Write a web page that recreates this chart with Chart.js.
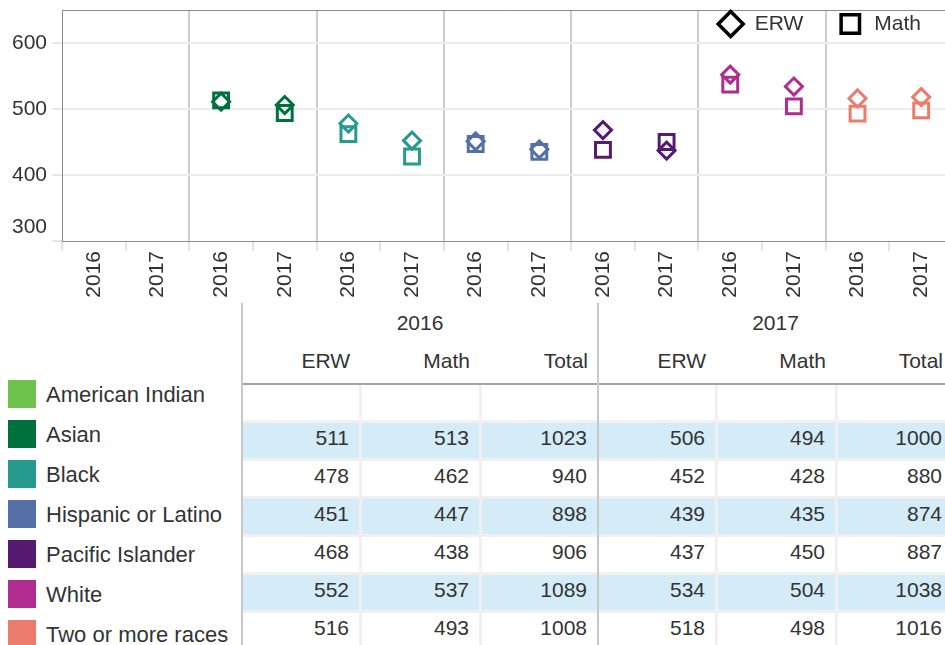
<!DOCTYPE html>
<html>
<head>
<meta charset="utf-8">
<script src="https://cdn.jsdelivr.net/npm/chart.js@4.4.1/dist/chart.umd.min.js"></script>
<style>
  html, body { margin: 0; padding: 0; overflow: hidden; background: #fff; }
  body { width: 945px; height: 645px; position: relative; font-family: "Liberation Sans", Arial, sans-serif; color: #333; }
  #chartBox { position: absolute; left: 0; top: 0; width: 953px; height: 300px; }
  .abs { position: absolute; white-space: nowrap; }
</style>
</head>
<body>
<div id="chartBox"><canvas id="c"></canvas></div>
<div id="table"></div>
<script>
// ---------- data ----------
const races = ['American Indian', 'Asian', 'Black', 'Hispanic or Latino', 'Pacific Islander', 'White', 'Two or more races'];
const raceColors = ['#6dc24b', '#00703c', '#269a8e', '#5570a7', '#541b70', '#b02c8e', '#eb7b6c'];
const years = ['2016', '2017'];
const sections = ['ERW', 'Math'];
const columnHeads = ['ERW', 'Math', 'Total'];
const yTicks = [300, 400, 500, 600];

const erw2016   = [null, 511, 478, 451, 468, 552, 516];
const math2016  = [null, 513, 462, 447, 438, 537, 493];
const total2016 = [null, 1023, 940, 898, 906, 1089, 1008];
const erw2017   = [null, 506, 452, 439, 437, 534, 518];
const math2017  = [null, 494, 428, 435, 450, 504, 498];
const total2017 = [null, 1000, 880, 874, 887, 1038, 1016];

// ---------- chart ----------
const FONT = '"Liberation Sans", Arial, sans-serif';
Chart.defaults.font.family = FONT;
Chart.defaults.font.size = 21;
Chart.defaults.color = '#333';

const xLabels = [];
const pointColors = [];
const erwSeries = [];
const mathSeries = [];
races.forEach((r, i) => {
  xLabels.push(years[0], years[1]);
  pointColors.push(raceColors[i], raceColors[i]);
  erwSeries.push(erw2016[i], erw2017[i]);
  mathSeries.push(math2016[i], math2017[i]);
});

const frame = {
  id: 'frame',
  beforeDatasetsDraw(chart) {
    const { ctx, chartArea } = chart;
    ctx.save();
    ctx.strokeStyle = '#8c8c8c';
    ctx.lineWidth = 1;
    ctx.beginPath();
    ctx.moveTo(chartArea.left, Math.round(chartArea.top) + 0.5);
    ctx.lineTo(chartArea.right, Math.round(chartArea.top) + 0.5);
    ctx.stroke();
    ctx.restore();
  }
};

const markLegend = {
  id: 'markLegend',
  afterDraw(chart) {
    const { ctx, chartArea } = chart;
    ctx.save();
    ctx.font = '21px ' + FONT;
    ctx.textBaseline = 'middle';
    ctx.textAlign = 'left';
    const y = chartArea.top + 14;
    let xEnd = chartArea.right - 32;
    const items = chart.data.datasets.slice().reverse();
    items.forEach(ds => {
      const w = ctx.measureText(ds.label).width;
      const tx = xEnd - w;
      ctx.fillStyle = '#333';
      ctx.fillText(ds.label, tx, y);
      ctx.fillStyle = 'rgba(0,0,0,0)';
      ctx.strokeStyle = '#000';
      ctx.lineWidth = 3.5;
      const cx = tx - 24;
      Chart.helpers.drawPoint(ctx, { pointStyle: ds.pointStyle, radius: ds.legendRadius, borderWidth: 3.5, rotation: 0 }, cx, y);
      xEnd = cx - 47;
    });
    ctx.restore();
  }
};

new Chart(document.getElementById('c'), {
  type: 'line',
  data: {
    labels: xLabels,
    datasets: [
      {
        label: sections[0], data: erwSeries, showLine: false,
        pointStyle: 'rectRot', pointRadius: 8.5, pointHoverRadius: 8.5, legendRadius: 12.5,
        pointBorderWidth: 3, pointBorderColor: pointColors, pointBackgroundColor: 'rgba(0,0,0,0)'
      },
      {
        label: sections[1], data: mathSeries, showLine: false,
        pointStyle: 'rect', pointRadius: 10.5, pointHoverRadius: 10.5, legendRadius: 13,
        pointBorderWidth: 3, pointBorderColor: pointColors, pointBackgroundColor: 'rgba(0,0,0,0)'
      }
    ]
  },
  options: {
    responsive: true,
    maintainAspectRatio: false,
    animation: false,
    events: [],
    layout: { autoPadding: false, padding: { top: 10, left: 0, right: 0, bottom: 0 } },
    plugins: { legend: { display: false }, tooltip: { enabled: false } },
    scales: {
      x: {
        type: 'category',
        offset: true,
        grid: {
          offset: true,
          drawOnChartArea: true,
          color: c => (c.index !== undefined && c.index > 0 && c.index % 2 === 0) ? '#cccccc' : 'rgba(0,0,0,0)',
          tickColor: '#e3e3e3',
          lineWidth: 2,
          tickWidth: 2,
          tickLength: 10
        },
        border: { display: true, color: '#8c8c8c', width: 1 },
        ticks: { autoSkip: false, minRotation: 90, maxRotation: 90, padding: 0, color: '#333', font: { size: 21 } },
        afterFit: s => { s.height = 59; s.paddingLeft = 0; s.paddingRight = 0; }
      },
      y: {
        min: 300,
        max: 650,
        afterBuildTicks: s => { s.ticks = yTicks.map(v => ({ value: v })); },
        grid: {
          color: c => (c.tick && c.tick.value === yTicks[0]) ? 'rgba(0,0,0,0)' : '#ececec',
          tickColor: '#e6e6e6',
          lineWidth: 2,
          tickLength: 10
        },
        border: { display: true, color: '#8c8c8c', width: 1 },
        ticks: {
          padding: 5,
          color: '#333',
          font: { size: 21, lineHeight: 1.3 },
          callback: v => v === yTicks[0] ? [String(v), ''] : String(v)
        },
        afterFit: s => { s.width = 62; s.paddingTop = 0; s.paddingBottom = 0; }
      }
    }
  },
  plugins: [frame, markLegend]
});

// ---------- table ----------
const tableEl = document.getElementById('table');
function add(html, style) {
  const d = document.createElement('div');
  d.className = 'abs';
  Object.assign(d.style, style);
  if (html !== null) d.textContent = html;
  tableEl.appendChild(d);
  return d;
}
const colEdges = [242, 360, 480, 598, 716, 836, 953];
const columns = [erw2016, math2016, total2016, erw2017, math2017, total2017];
const rowTop = 385, rowPitch = 38, rowH = 35;

// row area background (gap colour)
add(null, { left: '242px', top: rowTop + 'px', width: '711px', height: (645 - rowTop) + 'px', background: '#f0f0f0' });

// year headers
years.forEach((y, k) => {
  const l = colEdges[k * 3], r = colEdges[k * 3 + 3];
  add(y, { left: l + 'px', top: '311px', width: (r - l) + 'px', height: '24px', lineHeight: '24px', fontSize: '21px', textAlign: 'center' });
});
// column headers
columns.forEach((col, j) => {
  const l = colEdges[j], r = colEdges[j + 1];
  add(columnHeads[j % 3], { left: l + 'px', top: '349px', width: (r - l - 10) + 'px', height: '24px', lineHeight: '24px', fontSize: '21px', textAlign: 'right' });
});
// header rule
add(null, { left: '242px', top: '383px', width: '711px', height: '2px', background: '#a3a3a3' });

// cells
races.forEach((race, i) => {
  const top = rowTop + i * rowPitch;
  columns.forEach((col, j) => {
    const l = colEdges[j] + (j === 0 || j === 3 ? 1 : 2);
    const r = colEdges[j + 1] - 1;
    const v = col[i];
    add(v === null ? '' : String(v), {
      left: l + 'px', top: top + 'px', width: (r - l - 10) + 'px', height: rowH + 'px',
      paddingRight: '10px', lineHeight: '30px', fontSize: '21px', textAlign: 'right',
      background: i % 2 === 1 ? '#d3ecf8' : '#ffffff'
    });
  });
  // colour legend
  add(null, { left: '8px', top: (380 + i * 40) + 'px', width: '28px', height: '28px', background: raceColors[i] });
  add(race, { left: '46px', top: (380 + i * 40) + 'px', height: '28px', lineHeight: '29px', fontSize: '22px' });
});

// main dividers
[colEdges[0], colEdges[3]].forEach(x => {
  add(null, { left: (x - 1) + 'px', top: '303px', width: '2px', height: '342px', background: '#c8c8c8' });
});
</script>
</body>
</html>
